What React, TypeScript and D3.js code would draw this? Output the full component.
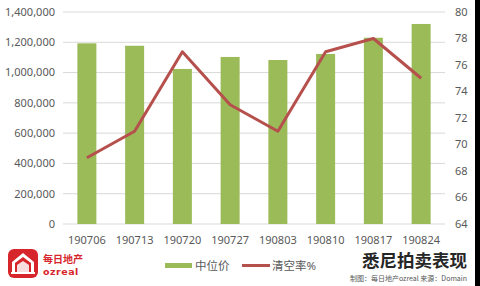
import React from "react";
import * as d3 from "d3";

const categories = ["190706", "190713", "190720", "190727", "190803", "190810", "190817", "190824"];
const medianPrice = [1193000, 1177000, 1024000, 1103000, 1083000, 1123000, 1230000, 1321000];
const clearanceRate = [69, 71, 77, 73, 71, 77, 78, 75];
const leftTicks = [0, 200000, 400000, 600000, 800000, 1000000, 1200000, 1400000];
const rightTicks = [64, 66, 68, 70, 72, 74, 76, 78, 80];
const legendLabels = ["中位价", "清空率%"];
const title = "悉尼拍卖表现";
const subtitle = "制图：每日地产ozreal 来源：Domain";

const W = 480, H = 286;
const left = 63, right = 445, top = 12, bottom = 224;
const BAR = "#9bbb59", LINE = "#b6504c", TXT = "#595959", GRID = "#d9d9d9";
const FONT = "'Noto Sans', 'Noto Sans CJK SC', sans-serif";

export default function App() {
  const x = d3.scaleBand().domain(categories).range([left, right]).paddingInner(0.6).paddingOuter(0.3);
  const xc = d3.scaleBand().domain(categories).range([left, right]);
  const yL = d3.scaleLinear().domain([0, 1400000]).range([bottom, top]);
  const yR = d3.scaleLinear().domain([64, 80]).range([bottom, top]);
  const fmt = d3.format(",");
  const line = d3.line<number>().x((_, i) => (xc(categories[i]) as number) + xc.bandwidth() / 2).y((d) => yR(d));

  return (
    <div style={{ position: "absolute", left: 0, top: 0 }}>
      <svg width={W} height={H} style={{ display: "block", fontFamily: FONT }}>
        <rect x={0} y={0} width={W} height={H} fill="#fff" />
        {leftTicks.map((t) => (
          <line key={t} x1={left} x2={right} y1={yL(t)} y2={yL(t)} stroke={GRID} strokeWidth={1} />
        ))}
        {leftTicks.map((t) => (
          <text key={"l" + t} x={55} y={yL(t)} dy="0.35em" textAnchor="end" fontSize={11} fill={TXT}>
            {fmt(t)}
          </text>
        ))}
        {rightTicks.map((t) => (
          <text key={"r" + t} x={455} y={yR(t)} dy="0.35em" textAnchor="start" fontSize={11} fill={TXT}>
            {t}
          </text>
        ))}
        {medianPrice.map((v, i) => {
          const cx = (xc(categories[i]) as number) + xc.bandwidth() / 2;
          const bw = 19;
          return <rect key={i} x={cx - bw / 2} y={yL(v)} width={bw} height={yL(0) - yL(v)} fill={BAR} />;
        })}
        <path d={line(clearanceRate) || ""} fill="none" stroke={LINE} strokeWidth={3} strokeLinejoin="round" />
        {categories.map((c) => (
          <text key={c} x={(xc(c) as number) + xc.bandwidth() / 2} y={240} dy="0.35em" textAnchor="middle" fontSize={11} fill={TXT}>
            {c}
          </text>
        ))}
        {/* legend */}
        <rect x={165} y={263} width={27} height={5} fill={BAR} />
        <text x={195} y={266} dy="0.35em" fontSize={11.5} fill={TXT}>{legendLabels[0]}</text>
        <line x1={242} x2={270} y1={265.5} y2={265.5} stroke={LINE} strokeWidth={3} />
        <text x={272} y={266} dy="0.35em" fontSize={11.5} fill={TXT}>{legendLabels[1]}</text>
        {/* title */}
        <text x={467} y={267} textAnchor="end" fontSize={17.5} fontWeight="bold" fill="#262626" fontFamily="'Noto Sans CJK SC', sans-serif">
          {title}
        </text>
        <text x={467} y={281} textAnchor="end" fontSize={7} fill="#555" fontFamily="'Noto Sans CJK SC', sans-serif">
          {subtitle}
        </text>
        {/* logo */}
        <rect x={8} y={249} width={30} height={29} rx={6} fill="#d7262b" />
        <path d="M12 272 L12 262 L23 253 L34 262 L34 272 L31 272 L31 263 L23 257 L15 263 L15 272 Z" fill="#fff" />
        <path d="M17 272 L17 265 L23 261 L29 265 L29 272 Z" fill="#fff" opacity={0.85} />
        <rect x={11} y={272} width={24} height={2} fill="#fff" />
        <text x={43} y={263} fontSize={10} fontWeight="bold" fill="#d7262b" fontFamily="'Noto Sans CJK SC', sans-serif">每日地产</text>
        <text x={43} y={275} fontSize={9.5} fontWeight="bold" fill="#d7262b" fontFamily="'DejaVu Sans', sans-serif" letterSpacing={0.5}>ozreal</text>
        <rect x={475} y={0} width={5} height={H} fill="#000" />
      </svg>
    </div>
  );
}
